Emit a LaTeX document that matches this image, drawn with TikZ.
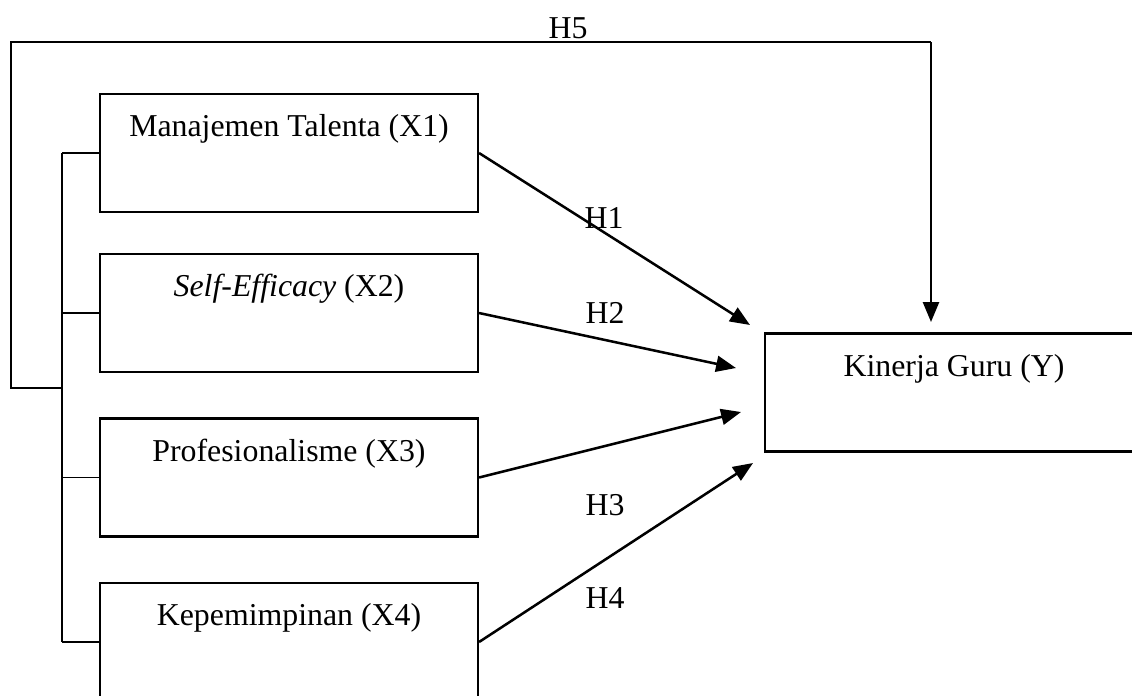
\documentclass[tikz,border=0pt]{standalone}
\usepackage{fontspec}
\setmainfont{Liberation Serif}
\usetikzlibrary{arrows.meta}

\begin{document}
\begin{tikzpicture}[x=0.377pt,y=-0.377pt,
  varbox/.style={draw,line width=0.8pt,rectangle,inner sep=0pt,minimum width=142.5pt,
    text height=16.1pt,text depth=28.4pt,font=\fontsize{12}{14}\selectfont},
  hyp/.style={font=\fontsize{12}{14}\selectfont},
  thinline/.style={line width=0.45pt},
  arr/.style={line width=0.95pt,-{Triangle[length=7.5pt,width=6pt]}}]
  \useasboundingbox (0,0) rectangle (1132,695);
  \clip (0,0) rectangle (1132,695);
  % variables
  \node[varbox] (x1) at (289,153) {Manajemen Talenta (X1)};
  \node[varbox] (x2) at (289,313) {\textit{Self-Efficacy} (X2)};
  \node[varbox] (x3) at (289,477.5) {Profesionalisme (X3)};
  \node[varbox] (x4) at (289,642) {Kepemimpinan (X4)};
  \node[varbox] (y) at (954,392.5) {Kinerja Guru (Y)};
  % arrow ends
  \coordinate (t1) at (750,325);
  \coordinate (t2) at (736,368);
  \coordinate (t3) at (741,412);
  \coordinate (t4) at (753,463);
  \coordinate (t5) at (931,322);
  \coordinate (brk) at (62,388);
  \coordinate (c5) at (11,42);
  \coordinate (c6) at (931,42);
  % bracket
  \draw[thinline] (x1.west -| brk) -- (x4.west -| brk);
  \foreach \n in {x1,x2,x3,x4}
    \draw[thinline] (\n.west) -- (\n.west -| brk);
  \draw[thinline] (brk) -| (c5) -- (c6);
  \draw[arr] (c6) -- (t5);
  % hypotheses
  \draw[arr] (x1.east) -- (t1);
  \draw[arr] (x2.east) -- (t2);
  \draw[arr] (x3.east) -- (t3);
  \draw[arr] (x4.east) -- (t4);
  \node[hyp] (h1) at (604,218) {H1};
  \node[hyp] (h2) at (605,313) {H2};
  \node[hyp] (h3) at (605,505) {H3};
  \node[hyp] (h4) at (605,598) {H4};
  \node[hyp] (h5) at (568,28) {H5};
\end{tikzpicture}
\end{document}
